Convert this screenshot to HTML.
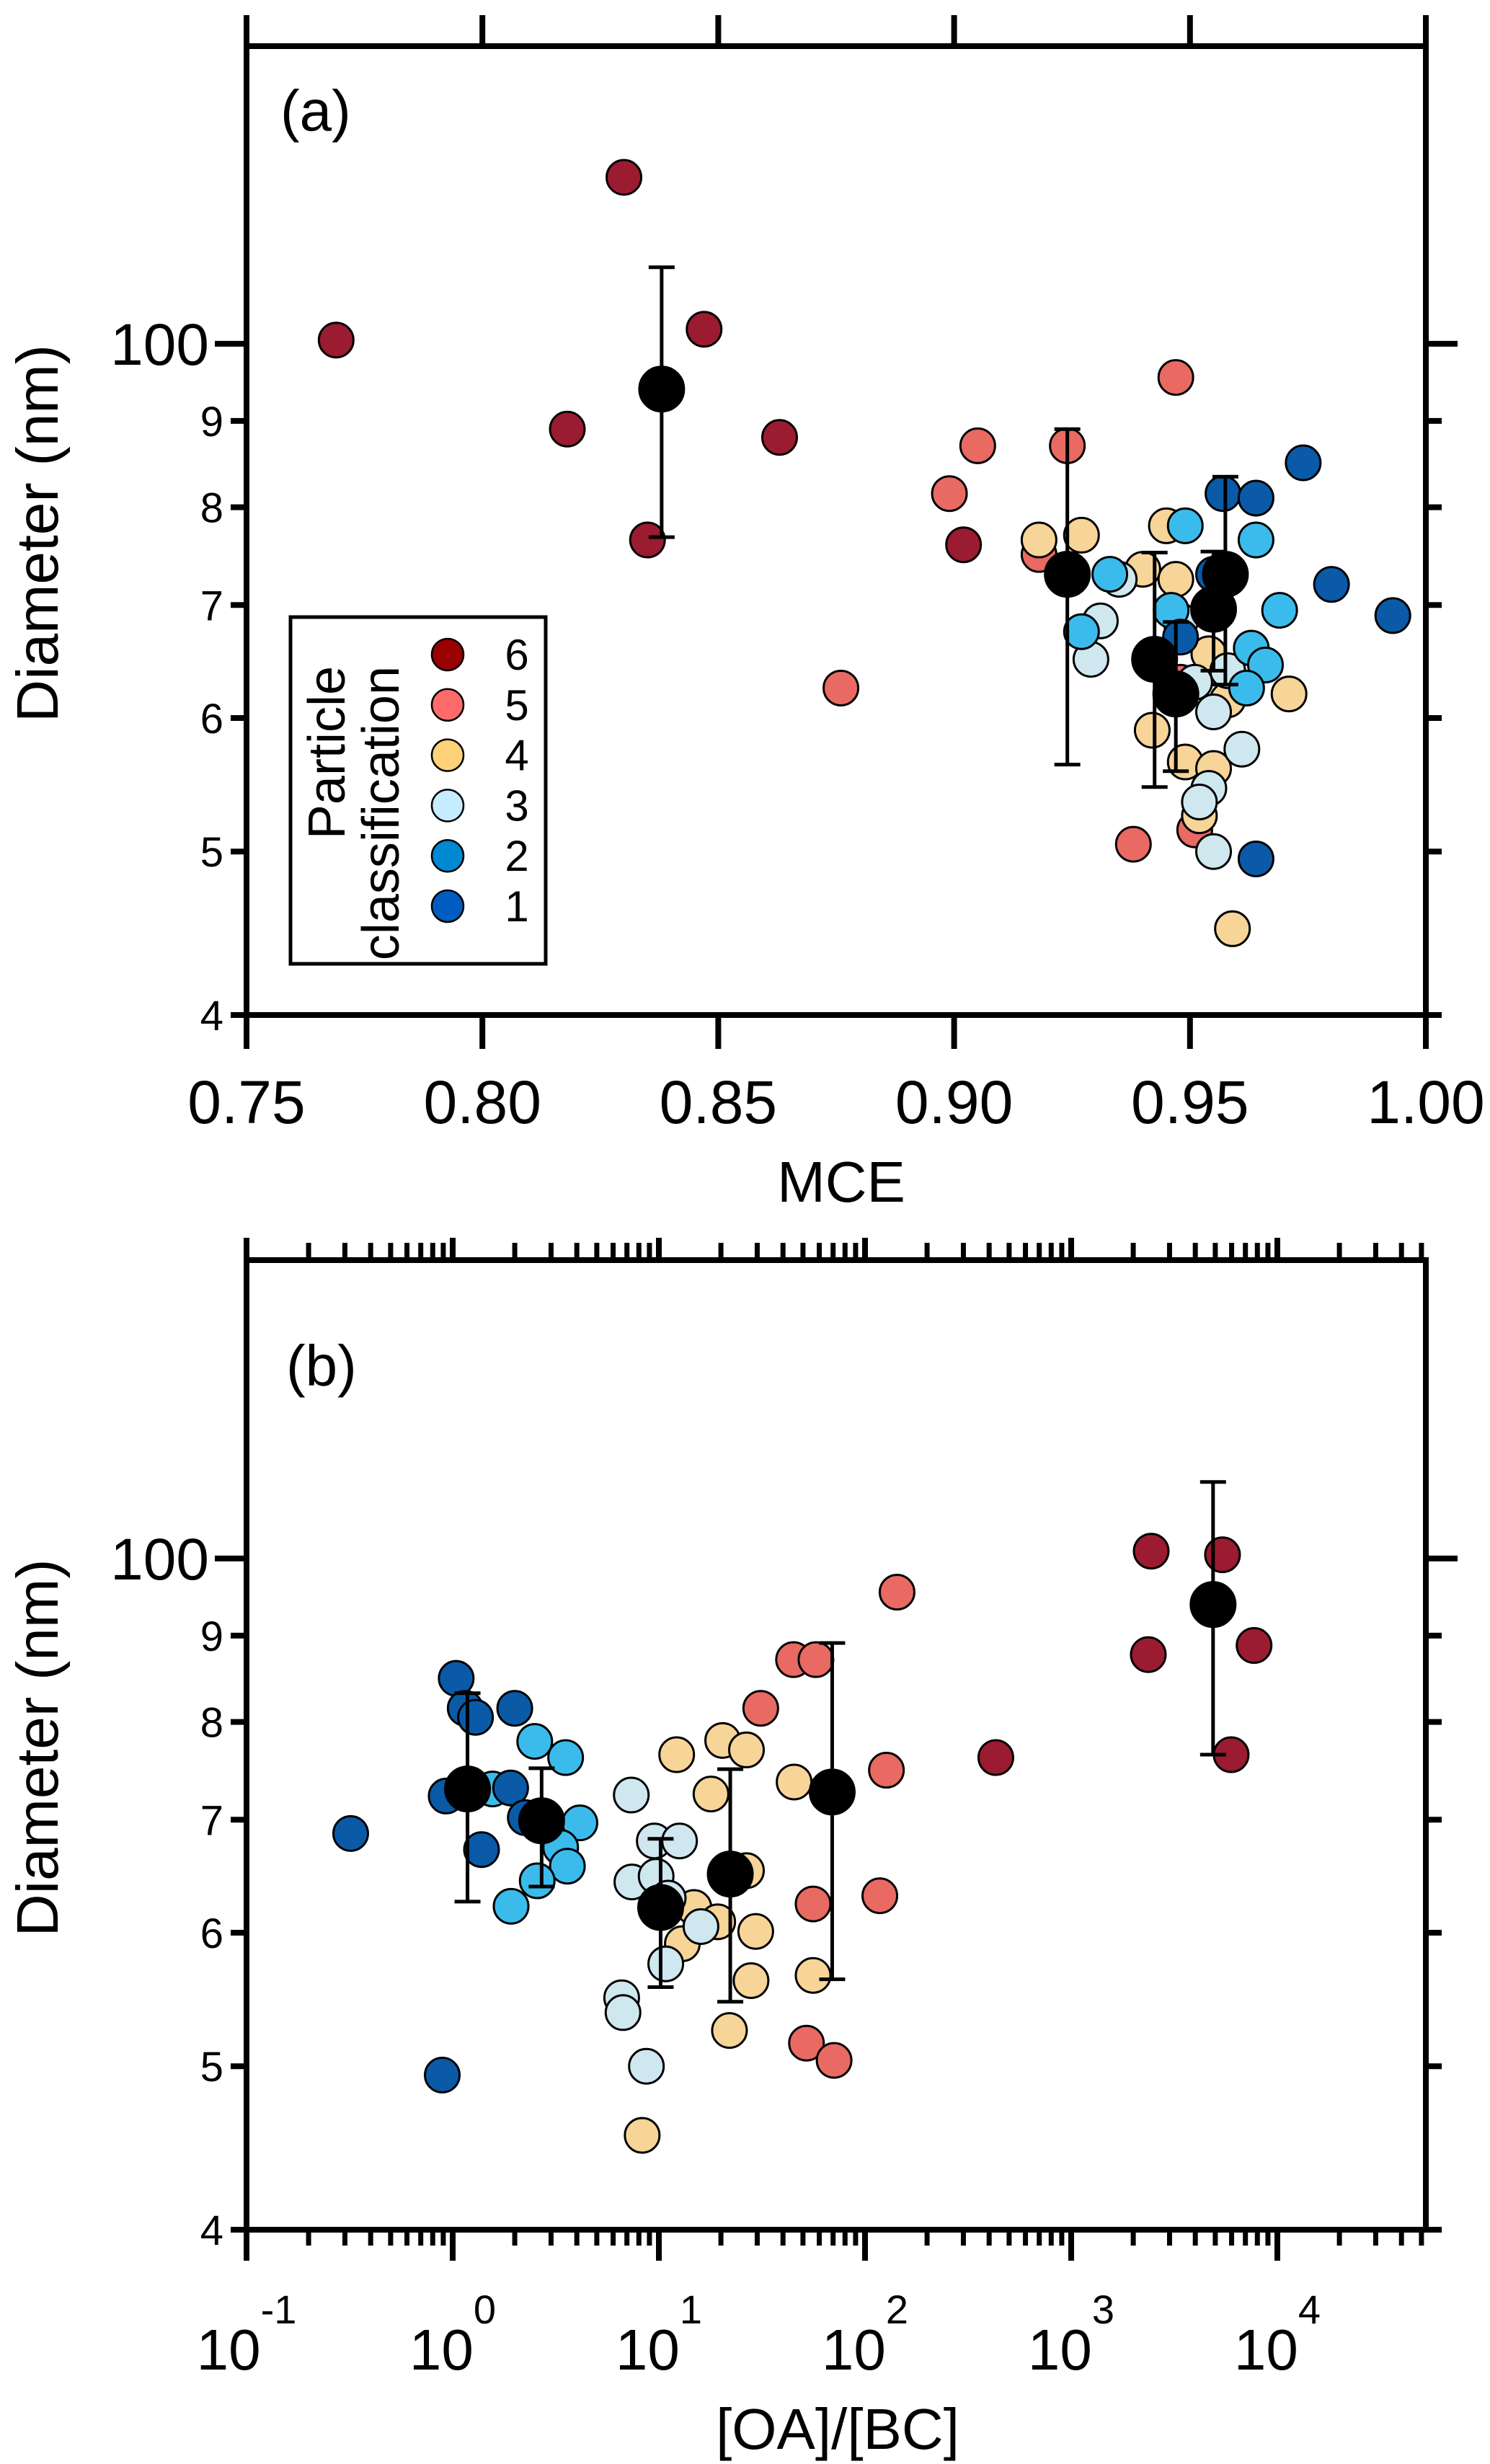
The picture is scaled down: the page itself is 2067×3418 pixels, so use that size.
<!DOCTYPE html>
<html><head><meta charset="utf-8"><style>
html,body{margin:0;padding:0;background:#fff;}
svg{display:block;font-family:"Liberation Sans",Arial,sans-serif;}
</style></head><body>
<svg id="fig" width="2067" height="3418" viewBox="0 0 2067 3418" xmlns="http://www.w3.org/2000/svg"></svg>
<script>
// ---------- Data: panel (a) MCE vs diameter ----------
const classColors = ['#0a5aa8','#3bbbec','#cfe7ef','#f7d497','#e86a63','#9b1b30']; // class 1..6
const legendColors = ['#005cbf','#0088d1','#c6ecff','#ffd27a','#ff6b6b','#990000'];
const legendLabels = ['1','2','3','4','5','6'];

const aMce6 = [0.769,0.830,0.847,0.818,0.863,0.835,0.902];
const aDia6 = [100.5,125.5,102,89,88,76.5,76];
const aMce5 = [0.876,0.947,0.905,0.924,0.899,0.918,0.938,0.951,0.948];
const aDia5 = [62.5,95.5,87,87,81.5,75,50.5,51.5,63];
const aMce4 = [0.918,0.927,0.940,0.945,0.947,0.942,0.949,0.955,0.971,0.959,0.958,0.954,0.952];
const aDia4 = [76.5,77,73.5,78,72.5,59,56.5,56,62,45,61.5,65.5,52.5];
const aMce3 = [0.935,0.931,0.929,0.948,0.951,0.955,0.961,0.954,0.952,0.955,0.958];
const aDia3 = [72.5,68.5,65,68.5,63,60.5,57.5,54.5,53.5,50,64];
const aMce2 = [0.933,0.927,0.949,0.964,0.969,0.963,0.966,0.962,0.946];
const aDia2 = [73,67.5,78,76.5,69.5,66,64.5,62.5,69.5];
const aMce1 = [0.974,0.957,0.964,0.980,0.993,0.964,0.955,0.948];
const aDia1 = [85,81.5,81,72,69,49.5,73,67];
const aMeanMce = [0.838,0.924,0.9425,0.947,0.955,0.9575];
const aMeanDia = [94,73,65,62,69.6,73];
const aMeanLo  = [76.8,56.3,54.6,55.8,64,62.8];
const aMeanHi  = [111,89,75.2,68.4,75.3,83.4];

// ---------- Data: panel (b) OA/BC vs diameter ----------
const bRat6 = [2444,5420,2366,7710,5970,431];
const bDia6 = [101,100.5,87.7,88.8,76.5,76.2];
const bRat5 = [143,45,57.8,31.2,127,56,118,52,70.8];
const bDia5 = [95.5,87.1,87.1,81.5,74.9,62.4,63.1,51.6,50.4];
const bRat4 = [12.2,20.4,26.6,17.9,45.3,26.6,14.8,19.3,29.5,13,28,56,22,8.3];
const bDia4 = [76.5,78,77,72.5,73.7,65.3,62.1,60.9,60.1,59.1,56.2,56.6,52.5,45.5];
const bRat3 = [7.35,9.5,12.6,7.4,9.7,11.1,16,10.8,6.6,6.7,8.7];
const bDia3 = [72.4,68,68,64.3,64.8,62.9,60.5,57.5,54.9,53.8,50];
const bRat2 = [2.5,3.53,1.56,4.14,3.34,3.6,2.57,1.92];
const bDia2 = [77.9,76.2,73,69.7,67.4,65.7,64.4,62.2];
const bRat1 = [0.32,1.04,1.15,1.29,2.0,0.93,1.91,1.38,2.25,0.89];
const bDia1 = [68.7,84.9,81.5,80.5,81.5,72.3,73.1,67.2,70.2,49.4];
const bMeanRat = [1.18,2.7,10.2,22.2,69.3,4877];
const bMeanDia = [73,69.9,62.1,65,72.7,93.9];
const bMeanLo  = [62.6,63.9,55.7,54.6,56.3,76.5];
const bMeanHi  = [83.2,75.1,68.2,75,89.1,111];

const yTickVals = [40,50,60,70,80,90,100];
const yTickLabels = ['4','5','6','7','8','9','100'];
const aXTicks = [0.75,0.80,0.85,0.90,0.95,1.00];
const aXTickLabels = ['0.75','0.80','0.85','0.90','0.95','1.00'];
const bXExp = [-1,0,1,2,3,4];
const bXExpLabels = ['-1','0','1','2','3','4'];

// ---------- helpers ----------
const NS='http://www.w3.org/2000/svg';
const svg=document.getElementById('fig');
function mk(tag,attrs,parent){const e=document.createElementNS(NS,tag);for(const k in attrs)e.setAttribute(k,attrs[k]);(parent||svg).appendChild(e);return e;}
const L=342,R=1978;
function yScale(top,bottom){return d=>bottom-Math.log10(d/40)*2340;}
const xA=v=>L+(v-0.75)/0.25*(R-L);
const xB=v=>L+(Math.log10(v)+1)*286;

function drawPanel(name,top,bottom,xf){
  const g=mk('g',{});
  
  
  const ys=yScale(top,bottom);
  const frame=mk('rect',{x:L,y:top,width:R-L,height:bottom-top,fill:'none',stroke:'#000','stroke-width':8},g);
  
  
  yTickVals.forEach((v,i)=>{
    const y=ys(v);const major=v===100;const len=major?44:22;
    mk('line',{x1:L-len,x2:L,y1:y,y2:y,stroke:'#000','stroke-width':8},g);
    mk('line',{x1:R,x2:R+len,y1:y,y2:y,stroke:'#000','stroke-width':8},g);
    const t=mk('text',{x:major?L-52:L-32,y:y+(major?29:21),'text-anchor':'end','font-size':major?82:58},g);
    t.textContent=yTickLabels[i];
    
    
  });
  const yt=mk('text',{transform:`translate(80,${(top+bottom)/2+4}) rotate(-90)`,'text-anchor':'middle','font-size':82},g);
  yt.textContent='Diameter (nm)';
  
  
  return {g,ys};
}

function dot(g,x,y,r,fill,nm){
  const c=mk('circle',{cx:x,cy:y,r:r,fill:fill,stroke:'#000','stroke-width':3},g);
  
  
  return c;
}
function errbar(g,x,y1,y2,nm){
  const e=mk('g',{},g);
  
  
  mk('line',{x1:x,x2:x,y1:y1,y2:y2,stroke:'#000','stroke-width':5},e);
  mk('line',{x1:x-18,x2:x+18,y1:y1,y2:y1,stroke:'#000','stroke-width':5},e);
  mk('line',{x1:x-18,x2:x+18,y1:y2,y2:y2,stroke:'#000','stroke-width':5},e);
}

// ---------- Panel (a) ----------
const aTop=64,aBot=1408;
const pa=drawPanel('panel-a',aTop,aBot,xA);
aXTicks.forEach((v,i)=>{
  const x=xA(v);
  mk('line',{x1:x,x2:x,y1:aBot,y2:aBot+47,stroke:'#000','stroke-width':8},pa.g);
  mk('line',{x1:x,x2:x,y1:aTop-43,y2:aTop,stroke:'#000','stroke-width':8},pa.g);
  const t=mk('text',{x:x,y:1558,'text-anchor':'middle','font-size':84},pa.g);
  t.textContent=aXTickLabels[i];
  
  
});
const aLbl=mk('text',{x:389,y:181,'font-size':80});
aLbl.textContent='(a)';


const aXT=mk('text',{x:1167,y:1667,'text-anchor':'middle','font-size':80});
aXT.textContent='MCE';



const aSeries=[[aMce6,aDia6,6],[aMce5,aDia5,5],[aMce4,aDia4,4],[aMce3,aDia3,3],[aMce2,aDia2,2],[aMce1,aDia1,1]];
const aPts=mk('g',{});


aSeries.forEach(([xs,ds,c])=>xs.forEach((v,i)=>dot(aPts,xA(v),pa.ys(ds[i]),24,classColors[c-1],'point-class-'+c)));
aMeanMce.forEach((v,i)=>{
  errbar(aPts,xA(v),pa.ys(aMeanHi[i]),pa.ys(aMeanLo[i]),'panel-a-error-bar');
});
aMeanMce.forEach((v,i)=>dot(aPts,xA(v),pa.ys(aMeanDia[i]),31,'#000','panel-a-mean-point'));

// legend
const lg=mk('g',{});


mk('rect',{x:403,y:856,width:354,height:481,fill:'#fff',stroke:'#000','stroke-width':5},lg);
const lt1=mk('text',{transform:'translate(478,924) rotate(-90)','text-anchor':'end','font-size':72},lg);
lt1.textContent='Particle';


const lt2=mk('text',{transform:'translate(553,924) rotate(-90)','text-anchor':'end','font-size':72},lg);
lt2.textContent='classification';


legendLabels.forEach((lab,i)=>{
  const y=1257-i*69.8;
  const e=mk('g',{},lg);
  
  
  mk('circle',{cx:621,cy:y,r:22,fill:legendColors[i],stroke:'#000','stroke-width':2.5},e);
  const t=mk('text',{x:717,y:y+21,'text-anchor':'middle','font-size':60},e);
  t.textContent=lab;
});

// ---------- Panel (b) ----------
const bTop=1748,bBot=3093;
const pb=drawPanel('panel-b',bTop,bBot,xB);
for(let e=-1;e<=4;e++){
  for(let m=1;m<=9;m++){
    const v=m*Math.pow(10,e);const x=xB(v);
    if(x>R-4)continue;
    const major=m===1;
    mk('line',{x1:x,x2:x,y1:bBot,y2:bBot+(major?43:22),stroke:'#000','stroke-width':major?8:7},pb.g);
    mk('line',{x1:x,x2:x,y1:bTop-(major?31:24),y2:bTop,stroke:'#000','stroke-width':major?8:7},pb.g);
  }
}
bXExp.forEach((ex,i)=>{
  const x=xB(Math.pow(10,ex));
  const t=mk('text',{x:x,y:3287,'text-anchor':'middle','font-size':80},pb.g);
  
  
  const s1=mk('tspan',{},t);s1.textContent='10';
  const s2=mk('tspan',{dy:-64,'font-size':56},t);s2.textContent=bXExpLabels[i];
});
const bLbl=mk('text',{x:397,y:1922,'font-size':80});
bLbl.textContent='(b)';


const bXT=mk('text',{x:1162,y:3397,'text-anchor':'middle','font-size':80});
bXT.textContent='[OA]/[BC]';



const bSeries=[[bRat6,bDia6,6],[bRat5,bDia5,5],[bRat4,bDia4,4],[bRat3,bDia3,3],[bRat2,bDia2,2],[bRat1,bDia1,1]];
const bPts=mk('g',{});


bSeries.forEach(([xs,ds,c])=>xs.forEach((v,i)=>dot(bPts,xB(v),pb.ys(ds[i]),24,classColors[c-1],'point-class-'+c)));
bMeanRat.forEach((v,i)=>{
  errbar(bPts,xB(v),pb.ys(bMeanHi[i]),pb.ys(bMeanLo[i]),'panel-b-error-bar');
});
bMeanRat.forEach((v,i)=>dot(bPts,xB(v),pb.ys(bMeanDia[i]),31,'#000','panel-b-mean-point'));
</script>
</body></html>
